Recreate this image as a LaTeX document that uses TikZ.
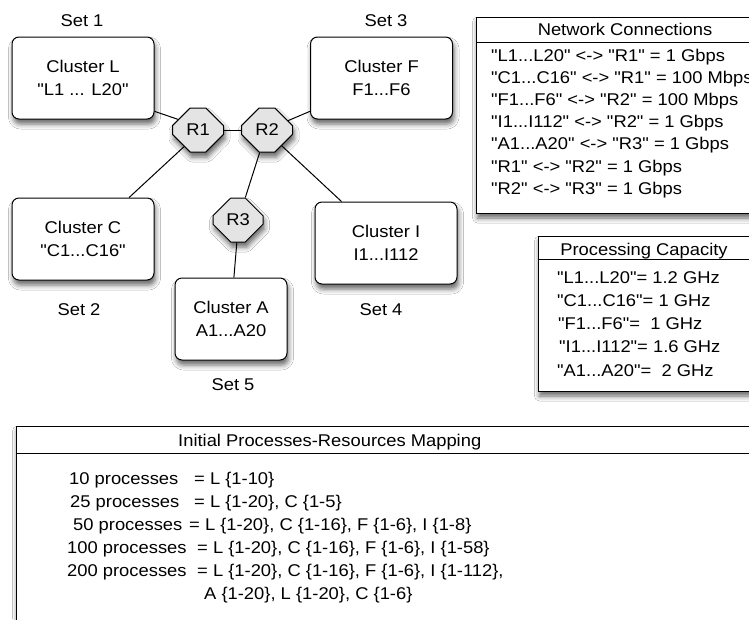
\documentclass[tikz,border=0pt]{standalone}
\usepackage{fontspec}
\setmainfont{Liberation Sans}[FakeStretch=1.08, Ligatures=TeXOff]
\usetikzlibrary{shapes.misc,shadows.blur}
\definecolor{routerfill}{HTML}{E4E4E4}
\tikzset{
  every node/.style={font=\fontsize{17}{23}\selectfont, inner sep=0pt},
  boxshadow/.style={blur shadow={shadow xshift=1.5pt, shadow yshift=-5pt, shadow blur radius=5pt, shadow opacity=60}},
  cluster/.style={draw, line width=1pt, rounded corners=7pt, fill=white, minimum width=142pt, minimum height=82pt, align=center, boxshadow},
  router/.style={draw, line width=1pt, chamfered rectangle, chamfered rectangle xsep=11pt, chamfered rectangle ysep=12pt, minimum width=51pt, minimum height=44pt, fill=routerfill, boxshadow},
  link/.style={line width=1pt},
  tablebox/.style={draw, line width=1pt, fill=white, boxshadow},
  rowtext/.style={anchor=base west},
  headtext/.style={anchor=base}
}
\begin{document}
\begin{tikzpicture}[x=1pt,y=-1pt]
\clip (0,0) rectangle (749,619);
\fill[white] (0,0) rectangle (749,619);

% tables
\draw[tablebox] (476,17) rectangle (790,213);
\draw[line width=1pt] (476,42) -- (790,42);
\draw[tablebox] (538,236) rectangle (790,391);
\draw[line width=1pt] (538,259) -- (790,259);
\draw[tablebox] (16,426) rectangle (790,660);
\draw[line width=1pt] (16,453) -- (790,453);

% set labels
\node (s1) at (82,21) {Set 1};
\node (s3) at (386,21) {Set 3};
\node (s2) at (79,310) {Set 2};
\node (s4) at (381,310) {Set 4};
\node (s5) at (233,385) {Set 5};

% clusters
\node[cluster] (L) at (83,78) {Cluster L\\"L1 ... L20"};
\node[cluster] (F) at (381.5,78) {Cluster F\\F1...F6};
\node[cluster] (C) at (83,239) {Cluster C\\"C1...C16"};
\node[cluster] (I) at (386,243) {Cluster I\\I1...I112};
\node[cluster, minimum width=112pt] (A) at (231,319) {Cluster A\\A1...A20};

% routers
\node[router] (R1) at (198,130) {R1};
\node[router] (R2) at (267,130) {R2};
\node[router, minimum width=50pt] (R3) at (238,220) {R3};

% links
\draw[link] (L.-25) -- (R1.152);
\draw[link] (R1.230) -- (C.42);
\draw[link] (R1.east) -- (R2.west);
\draw[link] (R2.24) -- (F.205.7);
\draw[link] (R2.252) -- (R3.72);
\draw[link] (R2.313) -- (I.137);
\draw[link] (R3.267) -- (A.86);

% network connections
\node[headtext] (nch) at (625,35) {Network Connections};
\node[rowtext] (nc1) at (491,61) {"L1...L20" <-> "R1" = 1 Gbps};
\node[rowtext] (nc2) at (491,83) {"C1...C16" <-> "R1" = 100 Mbps};
\node[rowtext] (nc3) at (491,105) {"F1...F6" <-> "R2" = 100 Mbps};
\node[rowtext] (nc4) at (491,127) {"I1...I112" <-> "R2" = 1 Gbps};
\node[rowtext] (nc5) at (491,149) {"A1...A20" <-> "R3" = 1 Gbps};
\node[rowtext] (nc6) at (491,172) {"R1" <-> "R2" = 1 Gbps};
\node[rowtext] (nc7) at (491,194) {"R2" <-> "R3" = 1 Gbps};

% processing capacity
\node[headtext] (pch) at (644,255) {Processing Capacity};
\node[rowtext] (pc1) at (557,283) {"L1...L20"= 1.2 GHz};
\node[rowtext] (pc2) at (557,306) {"C1...C16"= 1 GHz};
\node[rowtext] (pc3) at (558,329) {"F1...F6"=\ \ 1 GHz};
\node[rowtext] (pc4) at (559,352) {"I1...I112"= 1.6 GHz};
\node[rowtext] (pc5) at (557,376) {"A1...A20"=\ \ 2 GHz};

% mapping
\node[rowtext] (mh) at (178,446) {Initial Processes-Resources Mapping};
\node[rowtext] (m1a) at (69,484) {10 processes};
\node[rowtext] (m1b) at (194,484) {= L \{1-10\}};
\node[rowtext] (m2a) at (70,507) {25 processes};
\node[rowtext] (m2b) at (194,507) {= L \{1-20\}, C \{1-5\}};
\node[rowtext] (m3a) at (73,530) {50 processes};
\node[rowtext] (m3b) at (189,530) {= L \{1-20\}, C \{1-16\}, F \{1-6\}, I \{1-8\}};
\node[rowtext] (m4a) at (67,553) {100 processes};
\node[rowtext] (m4b) at (197,553) {= L \{1-20\}, C \{1-16\}, F \{1-6\}, I \{1-58\}};
\node[rowtext] (m5a) at (67,576) {200 processes};
\node[rowtext] (m5b) at (197,576) {= L \{1-20\}, C \{1-16\}, F \{1-6\}, I \{1-112\},};
\node[rowtext] (m6b) at (204,599) {A \{1-20\}, L \{1-20\}, C \{1-6\}};
\end{tikzpicture}
\end{document}
